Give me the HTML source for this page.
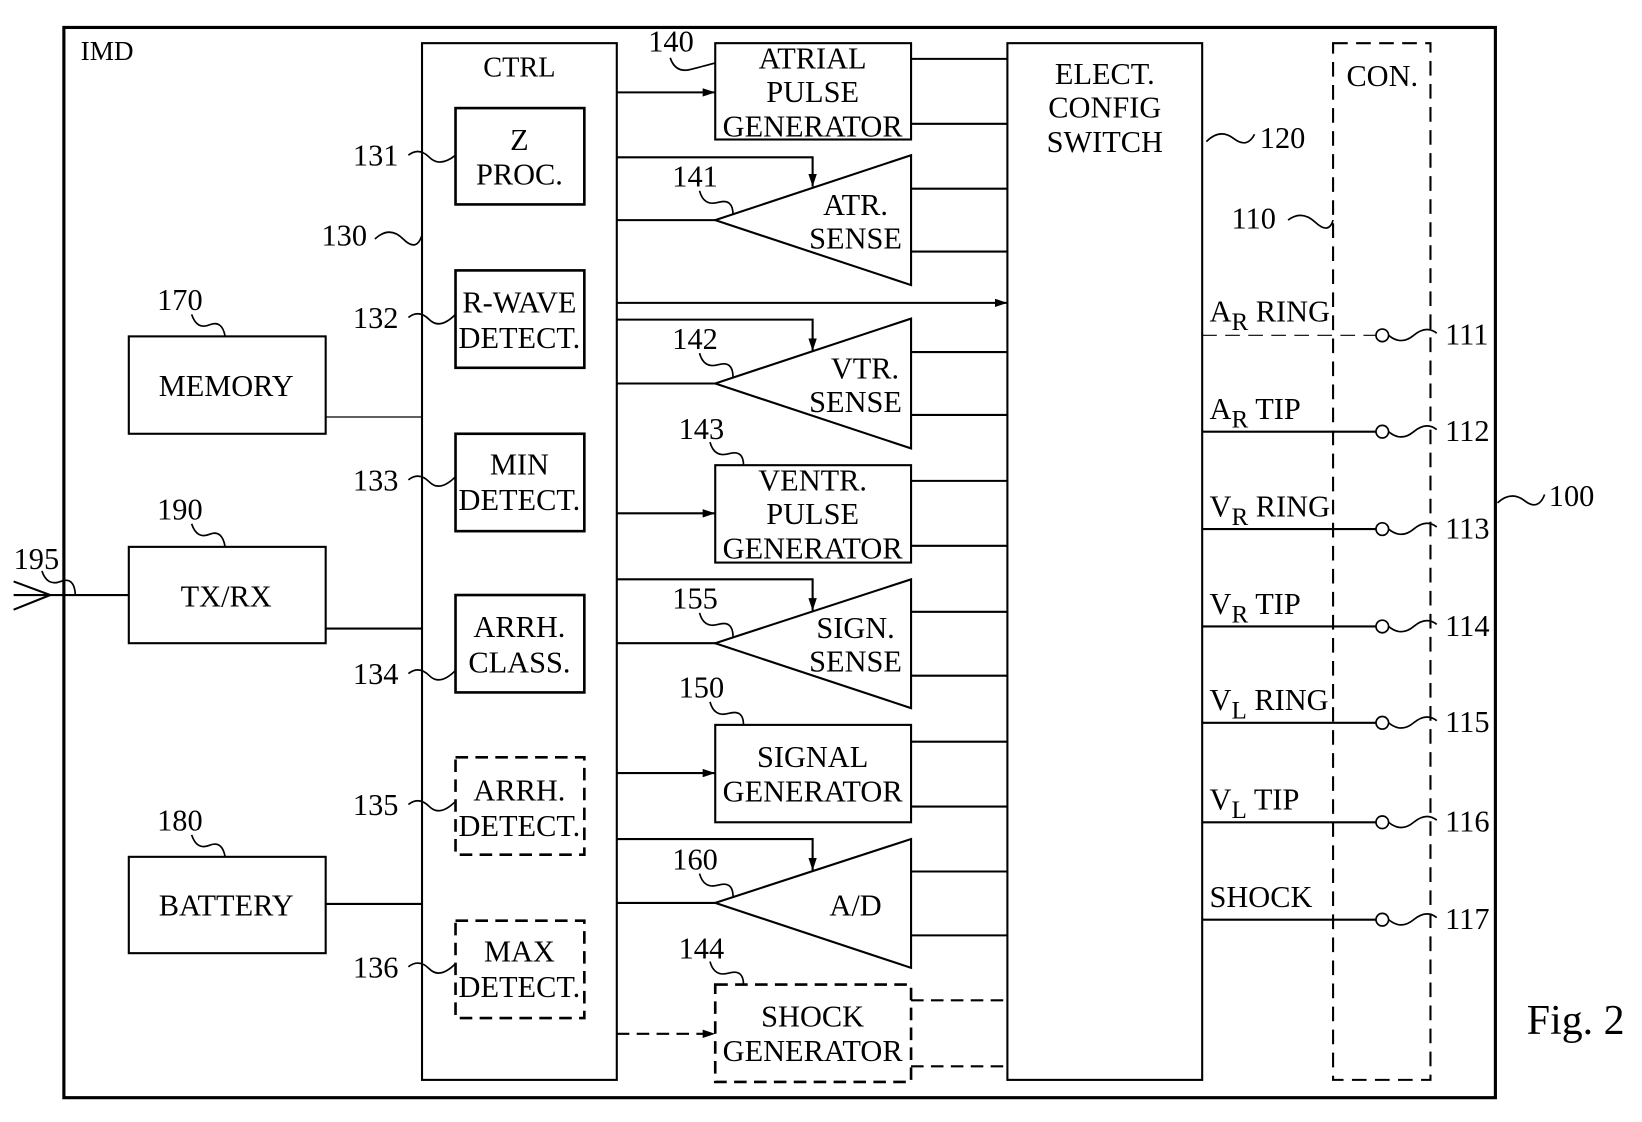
<!DOCTYPE html>
<html><head><meta charset="utf-8"><style>
html,body{margin:0;padding:0;background:#fff;}
svg{display:block;}
text{font-family:"Liberation Serif",serif;fill:#000;}
</style></head><body>
<svg width="1642" height="1122" viewBox="0 0 1568 1071" xmlns="http://www.w3.org/2000/svg">
<defs>
<marker id="ar" markerWidth="12" markerHeight="8" refX="12" refY="4" orient="auto" markerUnits="userSpaceOnUse"><path d="M0,0 L12,4 L0,8 Z" fill="#000"/></marker>
</defs>
<g fill="none" stroke="#000" stroke-width="2">
<rect x="61" y="26" width="1367" height="1022" stroke-width="3"/>
<rect x="403" y="41" width="186" height="990"/>
<rect x="435" y="103" width="123" height="92" stroke-width="2.5"/>
<rect x="435" y="258" width="123" height="93" stroke-width="2.5"/>
<rect x="435" y="414" width="123" height="93" stroke-width="2.5"/>
<rect x="435" y="568" width="123" height="93" stroke-width="2.5"/>
<rect x="435" y="723" width="123" height="93" stroke-width="2.5" stroke-dasharray="12,7"/>
<rect x="435" y="879" width="123" height="93" stroke-width="2.5" stroke-dasharray="12,7"/>
<rect x="123" y="321" width="188" height="93"/>
<rect x="123" y="522" width="188" height="92"/>
<rect x="123" y="818" width="188" height="92"/>
<line x1="311" y1="398" x2="403" y2="398" stroke-width="1.2"/>
<line x1="311" y1="600" x2="403" y2="600"/>
<line x1="311" y1="863" x2="403" y2="863"/>
<line x1="13" y1="568" x2="123" y2="568"/>
<path d="M13,555 L48,568 L13,582"/>
<rect x="683" y="41" width="187" height="92"/>
<line x1="589" y1="88" x2="683" y2="88" marker-end="url(#ar)"/>
<line x1="870" y1="56" x2="962" y2="56"/>
<line x1="870" y1="118" x2="962" y2="118"/>
<rect x="962" y="41" width="186" height="990"/>
<path d="M870,148 L870,272 L683,210 Z"/>
<path d="M589,150 L776,150 L776,178" marker-end="url(#ar)"/>
<line x1="589" y1="210" x2="683" y2="210"/>
<line x1="870" y1="180" x2="962" y2="180"/>
<line x1="870" y1="240" x2="962" y2="240"/>
<line x1="589" y1="289" x2="962" y2="289" marker-end="url(#ar)"/>
<path d="M870,304 L870,428 L683,366 Z"/>
<path d="M589,305 L776,305 L776,335" marker-end="url(#ar)"/>
<line x1="589" y1="366" x2="683" y2="366"/>
<line x1="870" y1="336" x2="962" y2="336"/>
<line x1="870" y1="396" x2="962" y2="396"/>
<rect x="683" y="444" width="187" height="93"/>
<line x1="589" y1="490" x2="683" y2="490" marker-end="url(#ar)"/>
<line x1="870" y1="459" x2="962" y2="459"/>
<line x1="870" y1="521" x2="962" y2="521"/>
<path d="M870,553 L870,676 L683,614 Z"/>
<path d="M589,553 L776,553 L776,583" marker-end="url(#ar)"/>
<line x1="589" y1="614" x2="683" y2="614"/>
<line x1="870" y1="584" x2="962" y2="584"/>
<line x1="870" y1="645" x2="962" y2="645"/>
<rect x="683" y="692" width="187" height="93"/>
<line x1="589" y1="738" x2="683" y2="738" marker-end="url(#ar)"/>
<line x1="870" y1="708" x2="962" y2="708"/>
<line x1="870" y1="770" x2="962" y2="770"/>
<path d="M870,801 L870,924 L683,862 Z"/>
<path d="M589,801 L776,801 L776,831" marker-end="url(#ar)"/>
<line x1="589" y1="862" x2="683" y2="862"/>
<line x1="870" y1="832" x2="962" y2="832"/>
<line x1="870" y1="893" x2="962" y2="893"/>
<rect x="683" y="940" width="187" height="93" stroke-width="2.5" stroke-dasharray="12,7"/>
<line x1="589" y1="987" x2="683" y2="987" stroke-dasharray="12,7" marker-end="url(#ar)"/>
<line x1="870" y1="955" x2="962" y2="955" stroke-dasharray="12,7"/>
<line x1="870" y1="1018" x2="962" y2="1018" stroke-dasharray="12,7"/>
<rect x="1273" y="41" width="93" height="990" stroke-dasharray="14,8"/>
<line x1="1148" y1="320" x2="1314" y2="320" stroke-width="1" stroke-dasharray="14,8"/>
<line x1="1148" y1="412" x2="1314" y2="412"/>
<line x1="1148" y1="505" x2="1314" y2="505"/>
<line x1="1148" y1="598" x2="1314" y2="598"/>
<line x1="1148" y1="690" x2="1314" y2="690"/>
<line x1="1148" y1="785" x2="1314" y2="785"/>
<line x1="1148" y1="878" x2="1314" y2="878"/>
<g stroke-width="1.6">
<circle cx="1320" cy="320" r="6"/><circle cx="1320" cy="412" r="6"/><circle cx="1320" cy="505" r="6"/>
<circle cx="1320" cy="598" r="6"/><circle cx="1320" cy="690" r="6"/><circle cx="1320" cy="785" r="6"/><circle cx="1320" cy="878" r="6"/>
<path d="M1326,320 Q1338,330 1350,320 T1372,318"/>
<path d="M1326,412 Q1338,422 1350,412 T1372,410"/>
<path d="M1326,505 Q1338,515 1350,505 T1372,503"/>
<path d="M1326,598 Q1338,608 1350,598 T1372,596"/>
<path d="M1326,690 Q1338,700 1350,690 T1372,688"/>
<path d="M1326,785 Q1338,795 1350,785 T1372,783"/>
<path d="M1326,878 Q1338,888 1350,878 T1372,876"/>
<path d="M390,148 Q400,140 410,150 T435,148"/>
<path d="M358,228 Q372,215 385,228 T403,224"/>
<path d="M390,303 Q400,295 410,305 T435,300"/>
<path d="M390,458 Q400,450 410,460 T435,455"/>
<path d="M390,643 Q400,635 410,645 T435,640"/>
<path d="M390,768 Q400,760 410,770 T435,765"/>
<path d="M390,923 Q400,915 410,925 T435,920"/>
<path d="M183,300 Q188,315 200,310 T215,321"/>
<path d="M183,500 Q188,515 200,510 T215,522"/>
<path d="M183,797 Q188,812 200,807 T215,818"/>
<path d="M40,545 Q45,560 58,555 T72,568"/>
<path d="M640,55 Q645,70 660,66 T683,60"/>
<path d="M668,182 Q672,197 686,193 T700,205"/>
<path d="M668,337 Q672,352 686,348 T700,360"/>
<path d="M678,422 Q682,437 696,433 T710,444"/>
<path d="M668,585 Q672,600 686,596 T700,608"/>
<path d="M678,670 Q682,685 696,681 T710,692"/>
<path d="M668,834 Q672,849 686,845 T700,856"/>
<path d="M678,918 Q682,933 696,929 T710,940"/>
<path d="M1152,135 Q1165,122 1178,132 T1198,128"/>
<path d="M1230,210 Q1243,200 1256,212 T1273,210"/>
<path d="M1430,480 Q1443,468 1456,478 T1475,472"/>
</g>
</g>
<g font-size="29" text-anchor="middle">
<text x="77" y="57" text-anchor="start" font-size="26">IMD</text>
<text x="496" y="73" font-size="27">CTRL</text>
<text x="496" y="143">Z</text><text x="496" y="176">PROC.</text>
<text x="496" y="298">R-WAVE</text><text x="496" y="332">DETECT.</text>
<text x="496" y="453">MIN</text><text x="496" y="487">DETECT.</text>
<text x="496" y="608">ARRH.</text><text x="496" y="642">CLASS.</text>
<text x="496" y="764">ARRH.</text><text x="496" y="798">DETECT.</text>
<text x="496" y="918">MAX</text><text x="496" y="952">DETECT.</text>
<text x="216" y="378">MEMORY</text>
<text x="216" y="579">TX/RX</text>
<text x="216" y="874">BATTERY</text>
<text x="776" y="65">ATRIAL</text><text x="776" y="97">PULSE</text><text x="776" y="130">GENERATOR</text>
<text x="817" y="205">ATR.</text><text x="817" y="237">SENSE</text>
<text x="826" y="361">VTR.</text><text x="817" y="393">SENSE</text>
<text x="776" y="468">VENTR.</text><text x="776" y="500">PULSE</text><text x="776" y="533">GENERATOR</text>
<text x="817" y="609">SIGN.</text><text x="817" y="641">SENSE</text>
<text x="776" y="732">SIGNAL</text><text x="776" y="765">GENERATOR</text>
<text x="817" y="874">A/D</text>
<text x="776" y="980">SHOCK</text><text x="776" y="1013">GENERATOR</text>
<text x="1055" y="80">ELECT.</text><text x="1055" y="112">CONFIG</text><text x="1055" y="145">SWITCH</text>
<text x="1320" y="82">CON.</text>
</g>
<g font-size="29">
<text x="1155" y="307">A<tspan font-size="24" dy="8">R</tspan><tspan dy="-8"> RING</tspan></text>
<text x="1155" y="400">A<tspan font-size="24" dy="8">R</tspan><tspan dy="-8"> TIP</tspan></text>
<text x="1155" y="493">V<tspan font-size="24" dy="8">R</tspan><tspan dy="-8"> RING</tspan></text>
<text x="1155" y="586">V<tspan font-size="24" dy="8">R</tspan><tspan dy="-8"> TIP</tspan></text>
<text x="1155" y="678">V<tspan font-size="24" dy="8">L</tspan><tspan dy="-8"> RING</tspan></text>
<text x="1155" y="773">V<tspan font-size="24" dy="8">L</tspan><tspan dy="-8"> TIP</tspan></text>
<text x="1155" y="866">SHOCK</text>
<text x="1380" y="329">111</text><text x="1380" y="421">112</text><text x="1380" y="514">113</text>
<text x="1380" y="607">114</text><text x="1380" y="699">115</text><text x="1380" y="794">116</text><text x="1380" y="887">117</text>
<text x="1479" y="483">100</text>
<text x="1176" y="218">110</text>
<text x="1203" y="141">120</text>
<text x="337" y="158">131</text>
<text x="307" y="234">130</text>
<text x="337" y="313">132</text>
<text x="337" y="468">133</text>
<text x="337" y="653">134</text>
<text x="337" y="778">135</text>
<text x="337" y="933">136</text>
<text x="150" y="296">170</text>
<text x="150" y="496">190</text>
<text x="150" y="793">180</text>
<text x="13" y="543">195</text>
<text x="619" y="49">140</text>
<text x="642" y="178">141</text>
<text x="642" y="333">142</text>
<text x="648" y="419">143</text>
<text x="642" y="581">155</text>
<text x="648" y="666">150</text>
<text x="642" y="830">160</text>
<text x="648" y="915">144</text>
<text x="1458" y="987" font-size="40">Fig. 2</text>
</g>
</svg>
</body></html>
